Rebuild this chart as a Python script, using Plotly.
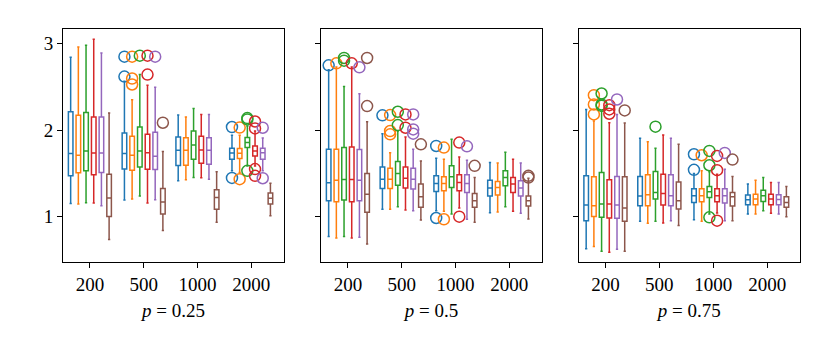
import plotly.graph_objects as go

# box statistics, [group][series]
groups = ["200", "500", "1000", "2000"]
series_colors = ["#1f77b4", "#ff7f0e", "#2ca02c", "#d62728", "#9467bd", "#8c564b"]
panel_titles = ["<i>p</i> = 0.25", "<i>p</i> = 0.5", "<i>p</i> = 0.75"]

# p = 0.25
p25_lo = [[1.153, 1.145, 1.160, 1.157, 1.126, 0.734],
          [1.191, 1.203, 1.237, 1.157, 1.195, 0.838],
          [1.414, 1.425, 1.452, 1.449, 1.433, 0.934],
          [1.529, 1.510, 1.586, 1.586, 1.529, 1.011]]
p25_q1 = [[1.472, 1.506, 1.529, 1.483, 1.510, 1.000],
          [1.552, 1.537, 1.575, 1.548, 1.545, 1.030],
          [1.591, 1.594, 1.664, 1.617, 1.606, 1.084],
          [1.664, 1.672, 1.799, 1.702, 1.664, 1.145]]
p25_med = [[1.729, 1.710, 1.760, 1.737, 1.737, 1.214],
           [1.729, 1.710, 1.760, 1.740, 1.698, 1.168],
           [1.767, 1.767, 1.829, 1.771, 1.767, 1.222],
           [1.735, 1.732, 1.856, 1.759, 1.740, 1.212]]
p25_q3 = [[2.213, 2.171, 2.205, 2.151, 2.151, 1.491],
          [1.967, 1.929, 2.036, 1.952, 1.975, 1.326],
          [1.921, 1.913, 1.990, 1.929, 1.913, 1.310],
          [1.790, 1.787, 1.914, 1.817, 1.790, 1.272]]
p25_hi = [[2.843, 2.962, 2.981, 3.050, 2.892, 2.197],
          [2.566, 2.351, 2.643, 2.520, 2.497, 1.752],
          [2.174, 2.151, 2.251, 2.182, 2.182, 1.518],
          [1.940, 1.940, 2.048, 1.990, 1.910, 1.385]]
# (group, series, value)
p25_fliers = [(1, 0, 2.850), (1, 0, 2.620), (1, 1, 2.850), (1, 1, 2.597), (1, 1, 2.528),
              (1, 2, 2.862), (1, 3, 2.862), (1, 3, 2.643), (1, 4, 2.850), (1, 5, 2.086),
              (3, 0, 2.036), (3, 0, 1.448), (3, 1, 2.030), (3, 1, 1.433),
              (3, 2, 2.140), (3, 2, 2.124), (3, 2, 1.529),
              (3, 3, 2.100), (3, 3, 2.020), (3, 3, 1.550), (3, 3, 1.472),
              (3, 4, 2.028), (3, 4, 1.444)]

# p = 0.5
p50_lo = [[0.769, 0.754, 0.769, 0.754, 0.761, 0.684],
          [1.084, 1.084, 1.114, 1.076, 1.068, 0.961],
          [1.068, 1.061, 1.030, 1.099, 0.969, 0.934],
          [1.045, 1.053, 1.114, 1.061, 1.038, 0.972]]
p50_q1 = [[1.184, 1.172, 1.191, 1.172, 1.184, 1.049],
          [1.326, 1.326, 1.364, 1.330, 1.318, 1.107],
          [1.291, 1.299, 1.337, 1.299, 1.280, 1.107],
          [1.237, 1.249, 1.356, 1.280, 1.237, 1.122]]
p50_med = [[1.391, 1.422, 1.429, 1.429, 1.422, 1.260],
           [1.433, 1.433, 1.498, 1.444, 1.433, 1.230],
           [1.383, 1.383, 1.460, 1.395, 1.383, 1.184],
           [1.330, 1.337, 1.452, 1.376, 1.330, 1.184]]
p50_q3 = [[1.779, 1.779, 1.798, 1.806, 1.775, 1.498],
          [1.575, 1.560, 1.637, 1.575, 1.560, 1.376],
          [1.472, 1.460, 1.587, 1.483, 1.483, 1.268],
          [1.422, 1.406, 1.529, 1.452, 1.414, 1.237]]
p50_hi = [[2.700, 2.730, 2.505, 2.730, 2.420, 2.098],
          [1.959, 1.740, 1.990, 1.921, 1.779, 1.644],
          [1.675, 1.664, 1.894, 1.690, 1.652, 1.452],
          [1.625, 1.621, 1.744, 1.664, 1.621, 1.444]]
p50_fliers = [(0, 0, 2.750), (0, 1, 2.773), (0, 2, 2.835), (0, 2, 2.804), (0, 3, 2.773),
              (0, 4, 2.727), (0, 5, 2.835), (0, 5, 2.278),
              (1, 0, 2.171), (1, 1, 2.174), (1, 1, 1.990), (1, 1, 1.952),
              (1, 2, 2.213), (1, 2, 2.059), (1, 3, 2.182), (1, 3, 2.028),
              (1, 4, 2.182), (1, 4, 2.009), (1, 4, 1.959), (1, 5, 1.836),
              (2, 0, 1.817), (2, 0, 0.984), (2, 1, 1.798), (2, 1, 0.969),
              (2, 3, 1.856), (2, 3, 0.999), (2, 4, 1.813), (2, 5, 1.587),
              (3, 5, 1.472), (3, 5, 1.452)]

# p = 0.75
p75_lo = [[0.627, 0.654, 0.600, 0.588, 0.623, 0.600],
          [0.945, 0.922, 0.945, 0.926, 0.953, 0.896],
          [0.965, 0.945, 1.030, 1.041, 0.953, 0.953],
          [1.030, 1.030, 1.068, 1.038, 1.030, 0.999]]
p75_q1 = [[0.953, 1.000, 0.992, 0.984, 0.980, 0.945],
          [1.126, 1.126, 1.203, 1.134, 1.126, 1.088],
          [1.164, 1.172, 1.222, 1.172, 1.157, 1.122],
          [1.137, 1.137, 1.176, 1.137, 1.137, 1.107]]
p75_med = [[1.134, 1.126, 1.145, 1.145, 1.134, 1.099],
           [1.237, 1.253, 1.280, 1.268, 1.241, 1.184],
           [1.241, 1.241, 1.287, 1.241, 1.241, 1.230],
           [1.195, 1.203, 1.241, 1.203, 1.199, 1.164]]
p75_q3 = [[1.472, 1.460, 1.510, 1.426, 1.464, 1.460],
          [1.464, 1.483, 1.521, 1.491, 1.483, 1.399],
          [1.322, 1.322, 1.349, 1.322, 1.322, 1.280],
          [1.249, 1.260, 1.306, 1.260, 1.253, 1.230]]
p75_hi = [[2.240, 2.105, 2.220, 2.086, 2.182, 2.082],
          [1.906, 1.867, 1.790, 1.944, 1.906, 1.836],
          [1.498, 1.529, 1.520, 1.491, 1.548, 1.464],
          [1.376, 1.422, 1.452, 1.395, 1.395, 1.349]]
p75_fliers = [(0, 1, 2.405), (0, 1, 2.297), (0, 1, 2.182),
              (0, 2, 2.424), (0, 2, 2.297), (0, 2, 2.282),
              (0, 3, 2.289), (0, 3, 2.240), (0, 3, 2.190),
              (0, 4, 2.355), (0, 5, 2.228), (1, 2, 2.040),
              (2, 0, 1.721), (2, 0, 1.541), (2, 1, 1.710),
              (2, 2, 1.760), (2, 2, 1.594), (2, 2, 0.992),
              (2, 3, 1.702), (2, 3, 1.537), (2, 3, 0.953),
              (2, 4, 1.737), (2, 5, 1.660)]

panels = [
    (p25_lo, p25_q1, p25_med, p25_q3, p25_hi, p25_fliers),
    (p50_lo, p50_q1, p50_med, p50_q3, p50_hi, p50_fliers),
    (p75_lo, p75_q1, p75_med, p75_q3, p75_hi, p75_fliers),
]

# the page body has an 8px margin, so the figure sits at (8, 8)
OFF = 8
W, H = 830 - OFF, 346 - OFF
x_px = [(63, 284), (321, 542), (578.5, 800)]
y_px = (29, 262)
step = 0.143
box_w = 0.085
font = "Liberation Serif, DejaVu Serif, serif"

fig = go.Figure()
layout = {}
for p, (lo, q1, med, q3, hi, fliers) in enumerate(panels):
    ax = "" if p == 0 else str(p + 1)
    for s, col in enumerate(series_colors):
        xs = [g + (s - 2.5) * step for g in range(len(groups))]
        fig.add_trace(go.Box(
            x=xs,
            lowerfence=[lo[g][s] for g in range(4)],
            q1=[q1[g][s] for g in range(4)],
            median=[med[g][s] for g in range(4)],
            q3=[q3[g][s] for g in range(4)],
            upperfence=[hi[g][s] for g in range(4)],
            width=box_w, whiskerwidth=0.5, boxpoints=False,
            line=dict(color=col, width=1.5), fillcolor="rgba(0,0,0,0)",
            showlegend=False, hoverinfo="skip",
            xaxis="x" + ax, yaxis="y" + ax,
        ))
        fx = [g + (s - 2.5) * step for g, ss, v in fliers if ss == s]
        fy = [v for g, ss, v in fliers if ss == s]
        if fx:
            fig.add_trace(go.Scatter(
                x=fx, y=fy, mode="markers",
                marker=dict(symbol="circle-open", size=11, color=col, line=dict(width=1.5)),
                showlegend=False, hoverinfo="skip",
                xaxis="x" + ax, yaxis="y" + ax,
            ))

    layout["xaxis" + ax] = dict(
        domain=[(x_px[p][0] - OFF) / W, (x_px[p][1] - OFF) / W], anchor="y" + ax,
        range=[-0.5, 3.61], tickvals=[0, 1, 2, 3], ticktext=groups,
        ticks="outside", ticklen=5, tickwidth=1, tickcolor="black",
        showline=True, linecolor="black", linewidth=1, mirror=True,
        showgrid=False, zeroline=False,
        tickfont=dict(family=font, size=19, color="black"),
        title=dict(text=panel_titles[p], font=dict(family=font, size=19, color="black"), standoff=9),
    )
    layout["yaxis" + ax] = dict(
        domain=[1 - (y_px[1] - OFF) / H, 1 - (y_px[0] - OFF) / H], anchor="x" + ax,
        range=[0.475, 3.17], tickvals=[1, 2, 3],
        showticklabels=(p == 0),
        ticks="outside", ticklen=5, tickwidth=1, tickcolor="black",
        showline=True, linecolor="black", linewidth=1, mirror=True,
        showgrid=False, zeroline=False,
        tickfont=dict(family=font, size=19, color="black"),
    )

fig.update_layout(
    width=W, height=H,
    margin=dict(l=0, r=0, t=0, b=0),
    paper_bgcolor="white", plot_bgcolor="white",
    boxmode="overlay",
    **layout,
)

fig.write_html("out.html")
